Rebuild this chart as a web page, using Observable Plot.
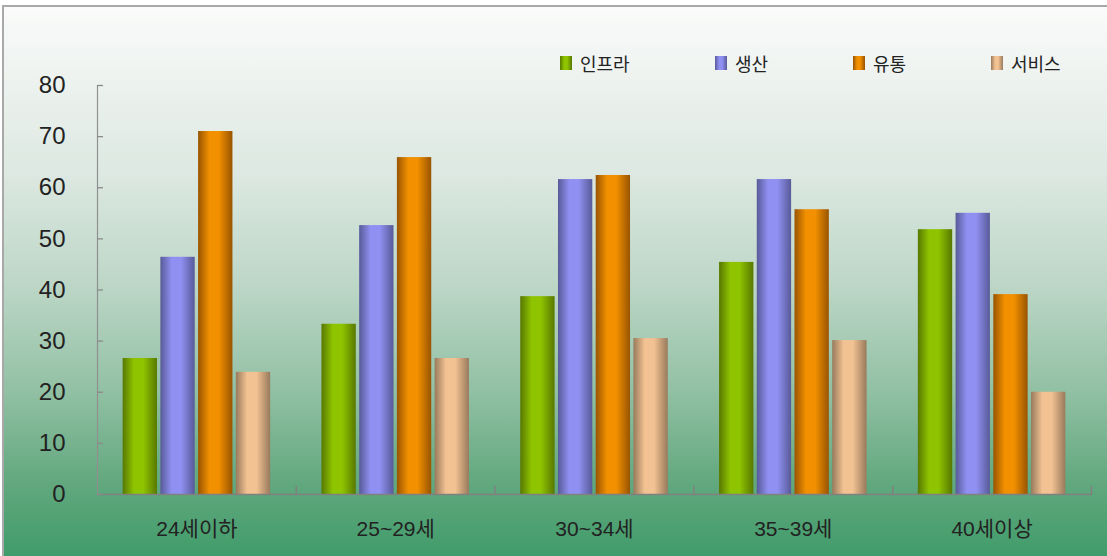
<!DOCTYPE html>
<html>
<head>
<meta charset="utf-8">
<script src="https://cdn.jsdelivr.net/npm/d3@7"></script>
<script src="https://cdn.jsdelivr.net/npm/@observablehq/plot@0.6"></script>
<style>
  html, body { margin: 0; padding: 0; background: #ffffff; }
  body { width: 1107px; height: 556px; position: relative; overflow: hidden;
         font-family: "Liberation Sans", "Noto Sans CJK KR", sans-serif; color: #222; }
  #bg { position: absolute; left: 2px; top: 5px; width: 1110px; height: 560px;
        border-top: 2px solid #a8a8a8; border-left: 2px solid #a8a8a8;
        background: linear-gradient(to bottom, #fafbfa 0%, #eef3f0 12%, #dce8e1 30%, #bcd6c6 50%, #93c1a5 68%, #62a87e 85%, #3b9a67 100%); }
  #chart { position: absolute; left: 0; top: 0; }
  .leg { position: absolute; top: 50px; display: flex; align-items: center; font-size: 18px; color: #222; }
  .sw { width: 12px; height: 14px; margin-right: 8px; }
</style>
</head>
<body>
<div id="bg"></div>
<div id="chart"></div>
<div id="legend"></div>
<script>
const categories = ["24세이하", "25~29세", "30~34세", "35~39세", "40세이상"];
const series = ["인프라", "생산", "유통", "서비스"];
const infra = [26.6, 33.3, 38.7, 45.4, 51.8];
const production = [46.4, 52.6, 61.6, 61.6, 55.0];
const distribution = [71.0, 65.9, 62.4, 55.7, 39.1];
const service = [23.9, 26.6, 30.5, 30.1, 20.0];
const yTicks = [0, 10, 20, 30, 40, 50, 60, 70, 80];

const seriesValues = [infra, production, distribution, service];
const darkColors = ["#587800", "#585a98", "#985400", "#987a5c"];
const lightColors = ["#8fc400", "#9090f2", "#f29000", "#f2c292"];
const legendLeft = [560, 715, 853, 991];

const table = [];
categories.forEach((c, ci) => {
  series.forEach((s, si) => table.push({cat: c, series: s, value: seriesValues[si][ci]}));
});

const W = 1107, H = 556, mL = 97, mR = 16, mT = 85, mB = 62;
const facetWidth = (W - mL - mR) / categories.length;
const tickLen = 6;

const lineShape = {draw(context, l) { context.moveTo(0, 0); context.lineTo(0, -l); }};

const chart = Plot.plot({
  width: W,
  height: H,
  marginLeft: mL,
  marginRight: mR,
  marginTop: mT,
  marginBottom: mB,
  style: {background: "transparent", fontFamily: '"Liberation Sans", "Noto Sans CJK KR", sans-serif', color: "#222"},
  fx: {domain: categories, padding: 0, round: false, label: null},
  x: {domain: series, paddingInner: 0.09, paddingOuter: 0.68, round: false, axis: null},
  y: {domain: [0, 80], label: null},
  color: {domain: series, range: series.map((d, i) => `url(#grad${i})`)},
  marks: [
    Plot.barY(table, {fx: "cat", x: "series", y: "value", fill: "series"}),
    Plot.ruleY([0], {stroke: "#808080", strokeWidth: 1.5}),
    Plot.frame({anchor: "left", facetAnchor: "left", stroke: "#909090", strokeWidth: 1.2}),
    Plot.tickY(yTicks, {y: d => d, fx: () => categories[0], insetRight: facetWidth - tickLen, stroke: "#8a8a8a", strokeWidth: 1.3}),
    Plot.axisY({ticks: yTicks, tickSize: 0, tickPadding: 32, fontSize: 24, label: null}),
    Plot.axisFx({anchor: "bottom", tickSize: 0, tickPadding: 27, fontSize: 21, label: null}),
    Plot.vector([0], {frameAnchor: "bottom-right", rotate: 0, length: 8, anchor: "start", shape: lineShape, stroke: "#808080", strokeWidth: 1.5})
  ]
});

const svg = d3.select(chart);
const defs = svg.insert("defs", ":first-child");
series.forEach((s, i) => {
  const g = defs.append("linearGradient").attr("id", `grad${i}`).attr("x1", 0).attr("x2", 1).attr("y1", 0).attr("y2", 0);
  g.append("stop").attr("offset", "0%").attr("stop-color", darkColors[i]);
  g.append("stop").attr("offset", "33%").attr("stop-color", lightColors[i]);
  g.append("stop").attr("offset", "60%").attr("stop-color", lightColors[i]);
  g.append("stop").attr("offset", "100%").attr("stop-color", darkColors[i]);
});
document.getElementById("chart").appendChild(chart);

const legend = document.getElementById("legend");
series.forEach((s, i) => {
  const item = document.createElement("div");
  item.className = "leg";
  item.style.left = legendLeft[i] + "px";
  const sw = document.createElement("div");
  sw.className = "sw";
  sw.style.background = `linear-gradient(to right, ${darkColors[i]} 0%, ${lightColors[i]} 35%, ${lightColors[i]} 60%, ${darkColors[i]} 100%)`;
  const t = document.createElement("span");
  t.textContent = s;
  item.appendChild(sw);
  item.appendChild(t);
  legend.appendChild(item);
});
</script>
</body>
</html>
